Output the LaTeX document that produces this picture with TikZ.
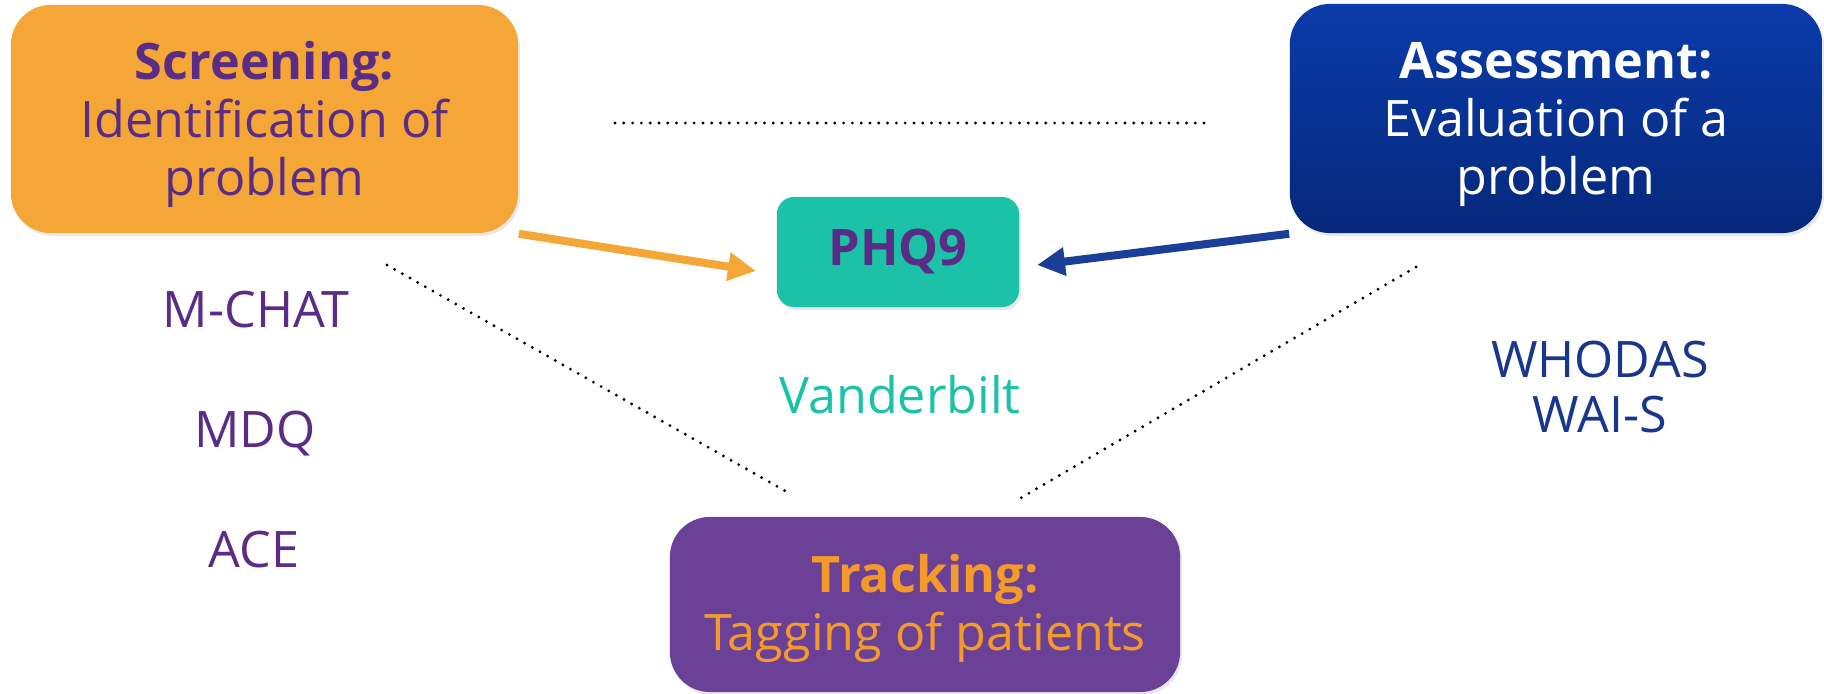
\documentclass[tikz,border=0pt]{standalone}
\usepackage{fontspec}
\setmainfont{Open Sans}
\usetikzlibrary{positioning, arrows.meta, calc, shadows}
\definecolor{scrorange}{HTML}{F4A737}
\definecolor{scrpurple}{HTML}{5B2C86}
\definecolor{asmtop}{HTML}{0A3BAA}
\definecolor{asmbot}{HTML}{06287A}
\definecolor{phqteal}{HTML}{1BC2A8}
\definecolor{trkpurple}{HTML}{6A4197}
\definecolor{trkorange}{HTML}{F39A2B}
\definecolor{arrowblue}{HTML}{1B3F97}
\definecolor{toolblue}{HTML}{17368C}
\newcommand{\stagetop}[1]{\rule{0pt}{#1}}

\begin{document}
\begin{tikzpicture}[x=0.01cm, y=-0.01cm,
    every node/.style={font=\fontsize{14.3}{16.5}\selectfont, inner sep=0pt},
    stagebox/.style={rounded corners=0.4cm, align=center,
      drop shadow={opacity=0.18, shadow xshift=0.02cm, shadow yshift=-0.03cm}},
    tool/.style={anchor=base},
    linkarrow/.style={line width=0.08cm, -{Triangle[length=0.28cm, width=0.27cm]}},
    dotline/.style={line width=0.9pt, line cap=round, dash pattern=on 0pt off 2.5pt}]
  \useasboundingbox (0,0) rectangle (1824,694);
  % the three stages and the shared tool
  \node[stagebox, fill=scrorange, text=scrpurple, minimum width=5.07cm, minimum height=2.28cm] (scr) at (264.5,119) {\stagetop{13.8pt}\textbf{Screening:}\\Identification of\\problem};
  \node[stagebox, top color=asmtop, bottom color=asmbot, text=white, minimum width=5.32cm, minimum height=2.29cm] (asm) at (1556,118.5) {\stagetop{13.8pt}\textbf{Assessment:}\\Evaluation of a\\problem};
  \node[stagebox, fill=trkpurple, text=trkorange, minimum width=5.10cm, minimum height=1.75cm] (trk) at (925,604.5) {\stagetop{13pt}\textbf{Tracking:}\\Tagging of patients};
  \node[stagebox, rounded corners=0.17cm, fill=phqteal, text=scrpurple, minimum width=2.42cm, minimum height=1.10cm] (phq) at (898,252) {\textbf{PHQ9}};
  % tools per stage
  \node[tool, text=scrpurple] (mchat) at (256,327) {M-CHAT};
  \node[tool, text=scrpurple] (mdq) at (255,447) {MDQ};
  \node[tool, text=scrpurple] (ace) at (254,567) {ACE};
  \node[tool, text=phqteal] (vand) at (900,413) {Vanderbilt};
  \node[tool, text=toolblue] (whodas) at (1600,377) {WHODAS};
  \node[tool, text=toolblue] (wais) at (1600,432) {WAI-S};
  % arrows into PHQ9
  \coordinate (phqinl) at (756,271);
  \coordinate (phqinr) at (1037,265);
  \draw[linkarrow, scrorange] (scr.south east) -- (phqinl);
  \draw[linkarrow, arrowblue] (asm.south west) -- (phqinr);
  % dotted triangle
  \coordinate (topl) at (615,123);
  \coordinate (topr) at (1210,123);
  \coordinate (lefta) at (387,265);
  \coordinate (leftb) at (787,492);
  \coordinate (righta) at (1416,267);
  \coordinate (rightb) at (1019,499);
  \draw[dotline] (topl) -- (topr);
  \draw[dotline] (lefta) -- (leftb);
  \draw[dotline] (righta) -- (rightb);
\end{tikzpicture}
\end{document}
